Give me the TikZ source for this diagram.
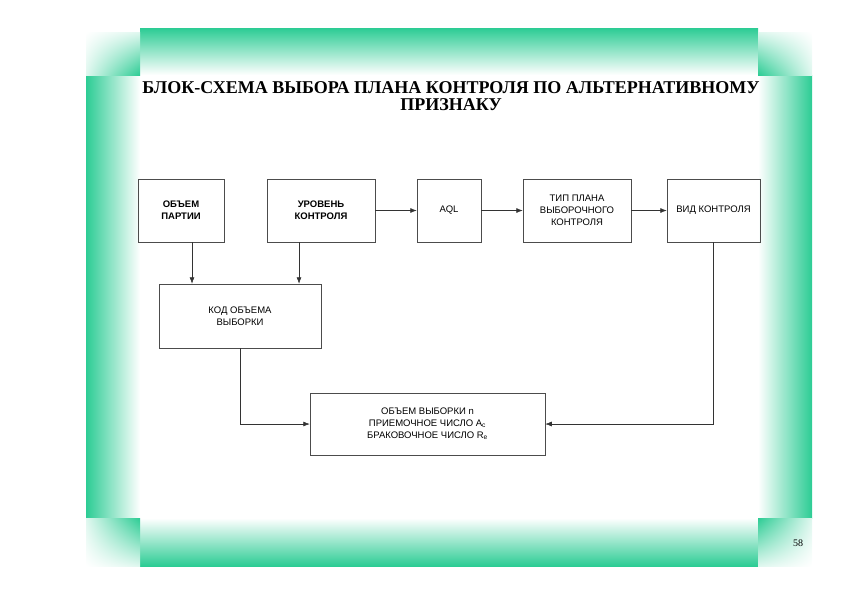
\documentclass[tikz,border=0pt]{standalone}
\usepackage{fontspec}
\setmainfont{Liberation Serif}
\setsansfont{Liberation Sans}
\usetikzlibrary{arrows.meta,shadings}
\definecolor{frmgreen}{RGB}{44,204,148}
\tikzset{
  blk/.style={draw=black!70, line width=0.5pt, align=center, inner sep=2pt,
    font=\sffamily\fontsize{9.5}{12}\selectfont},
  lnk/.style={draw=black!80, line width=0.6pt, -{Latex[length=6.5pt,width=5pt]}}
}

\begin{document}
\begin{tikzpicture}[x=1pt, y=-1pt]
                        \useasboundingbox (0,0) rectangle (842,595);
                        \shade[top color=frmgreen, bottom color=white] (140,28) rectangle (758,75);
                        \shade[top color=white, bottom color=frmgreen] (140,518) rectangle (758,566);
                        \shade[left color=frmgreen, middle color=frmgreen!30, right color=white] (86,75) rectangle (140,518);
                        \shade[left color=white, middle color=frmgreen!30, right color=frmgreen] (758,75) rectangle (812,518);
                        \shade[upper left=white, upper right=frmgreen!15, lower left=frmgreen!15, lower right=frmgreen] (86,32) rectangle (140,75);
                        \shade[upper left=frmgreen!15, upper right=white, lower left=frmgreen, lower right=frmgreen!15] (758,32) rectangle (812,75);
                        \shade[upper left=frmgreen!15, upper right=frmgreen, lower left=white, lower right=frmgreen!15] (86,518) rectangle (140,566);
                        \shade[upper left=frmgreen, upper right=frmgreen!15, lower left=frmgreen!15, lower right=white] (758,518) rectangle (812,566);

                        \node[font=\bfseries\fontsize{18}{17}\selectfont, align=center] (ttl) at (451,96)
                            {БЛОК-СХЕМА ВЫБОРА ПЛАНА КОНТРОЛЯ ПО АЛЬТЕРНАТИВНОМУ\\ПРИЗНАКУ};

                        \node[blk, font=\sffamily\bfseries\fontsize{9.5}{12}\selectfont, minimum width=86pt, minimum height=63pt] (obem) at (181,210.5) {ОБЪЕМ\\ПАРТИИ};
                        \node[blk, font=\sffamily\bfseries\fontsize{9.5}{12}\selectfont, minimum width=108pt, minimum height=63pt] (urov) at (321,210.5) {УРОВЕНЬ\\КОНТРОЛЯ};
                        \node[blk, minimum width=64pt, minimum height=63pt] (aql) at (449,210.5) {AQL};
                        \node[blk, minimum width=108pt, minimum height=63pt] (tip) at (577,210.5) {ТИП ПЛАНА\\ВЫБОРОЧНОГО\\КОНТРОЛЯ};
                        \node[blk, minimum width=93pt, minimum height=63pt] (vid) at (713.5,210.5) {ВИД КОНТРОЛЯ};
                        \node[blk, minimum width=162pt, minimum height=64pt] (kod) at (240,316) {КОД ОБЪЕМА\\ВЫБОРКИ};
                        \node[blk, minimum width=235pt, minimum height=62pt] (vyb) at (427.5,424)
                            {ОБЪЕМ ВЫБОРКИ n\\ПРИЕМОЧНОЕ ЧИСЛО A\textsubscript{c}\\БРАКОВОЧНОЕ ЧИСЛО R\textsubscript{e}};

                        \node[font=\fontsize{10}{11}\selectfont] (pg) at (798,543) {58};

                        \draw[lnk] (urov) -- (aql);
                        \draw[lnk] (aql) -- (tip);
                        \draw[lnk] (tip) -- (vid);
                        \draw[lnk] ([xshift=11pt]obem.south) -- ([xshift=11pt]obem.south |- kod.north);
                        \draw[lnk] ([xshift=-22pt]urov.south) -- ([xshift=-22pt]urov.south |- kod.north);
                        \draw[lnk] (kod.south) |- (vyb.west);
                        \draw[lnk] (vid.south) |- (vyb.east);
\end{tikzpicture}
\end{document}
